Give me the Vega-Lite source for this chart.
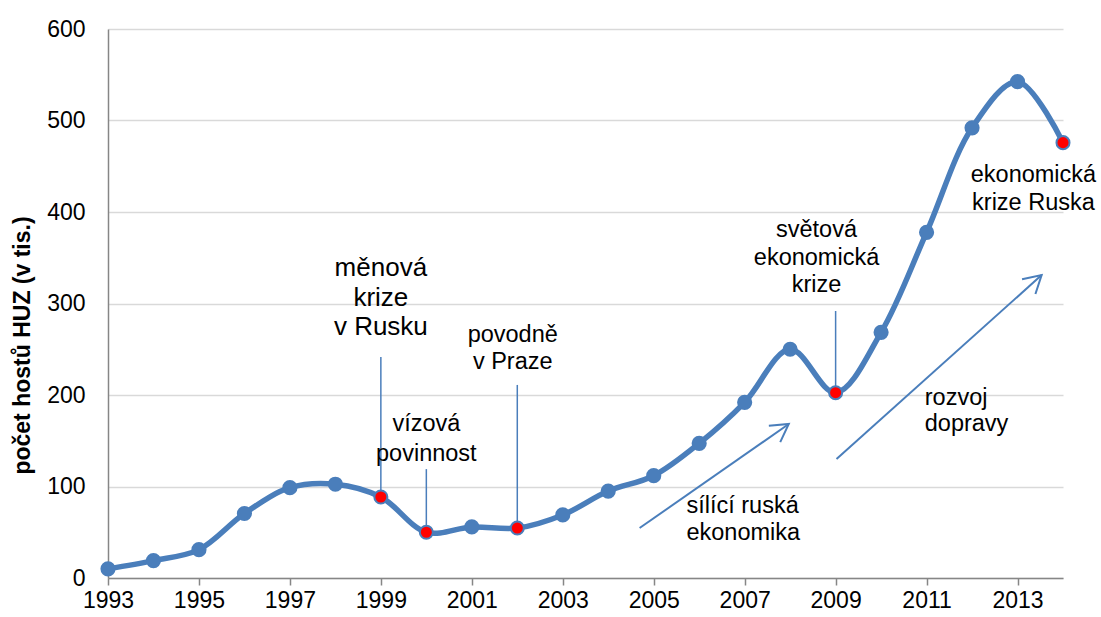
{
  "$schema": "https://vega.github.io/schema/vega-lite/v6.json",
  "width": 955,
  "height": 549,
  "autosize": {"type": "none"},
  "padding": {"left": 108, "top": 29, "right": 38, "bottom": 39},
  "background": "white",
  "config": {
    "font": "Liberation Sans",
    "view": {"stroke": null}
  },
  "datasets": {
    "series": [
      {"year": 1993, "value": 10, "event": false},
      {"year": 1994, "value": 19, "event": false},
      {"year": 1995, "value": 31, "event": false},
      {"year": 1996, "value": 70.5, "event": false},
      {"year": 1997, "value": 98.7, "event": false},
      {"year": 1998, "value": 102.5, "event": false},
      {"year": 1999, "value": 88.5, "event": true},
      {"year": 2000, "value": 50, "event": true},
      {"year": 2001, "value": 55.8, "event": false},
      {"year": 2002, "value": 54.6, "event": true},
      {"year": 2003, "value": 68.9, "event": false},
      {"year": 2004, "value": 95, "event": false},
      {"year": 2005, "value": 111.8, "event": false},
      {"year": 2006, "value": 147.2, "event": false},
      {"year": 2007, "value": 192, "event": false},
      {"year": 2008, "value": 250, "event": false},
      {"year": 2009, "value": 202.5, "event": true},
      {"year": 2010, "value": 268.5, "event": false},
      {"year": 2011, "value": 377.8, "event": false},
      {"year": 2012, "value": 492, "event": false},
      {"year": 2013, "value": 542.4, "event": false},
      {"year": 2014, "value": 475.8, "event": true}
    ],
    "connectors": [
      {"year": 1999, "top": 241.5, "bottom": 88.5},
      {"year": 2000, "top": 119, "bottom": 50},
      {"year": 2002, "top": 211, "bottom": 54.6},
      {"year": 2009, "top": 291.8, "bottom": 202.5}
    ],
    "arrows": [
      {"x1": 2004.69, "y1": 54.6, "x2": 2007.97, "y2": 168.3, "angle": 55.3},
      {"x1": 2009.02, "y1": 130, "x2": 2013.53, "y2": 331.1, "angle": 48.1}
    ],
    "notes": [
      {"x": 1999, "y": 338.8, "line": "měnová", "size": 26, "align": "center"},
      {"x": 1999, "y": 306.0, "line": "krize", "size": 26, "align": "center"},
      {"x": 1999, "y": 274.3, "line": "v Rusku", "size": 26, "align": "center"},
      {"x": 2000, "y": 168.3, "line": "vízová", "size": 23.5, "align": "center"},
      {"x": 2000, "y": 135.5, "line": "povinnost", "size": 23.5, "align": "center"},
      {"x": 2001.9, "y": 265.6, "line": "povodně", "size": 23.5, "align": "center"},
      {"x": 2001.9, "y": 236.4, "line": "v Praze", "size": 23.5, "align": "center"},
      {"x": 2008.58, "y": 380.3, "line": "světová", "size": 23.5, "align": "center"},
      {"x": 2008.58, "y": 349.7, "line": "ekonomická", "size": 23.5, "align": "center"},
      {"x": 2008.58, "y": 320.2, "line": "krize", "size": 23.5, "align": "center"},
      {"x": 2013.35, "y": 440.4, "line": "ekonomická", "size": 23.5, "align": "center"},
      {"x": 2013.35, "y": 410.2, "line": "krize Ruska", "size": 23.5, "align": "center"},
      {"x": 2005.72, "y": 78.7, "line": "sílící ruská", "size": 23.5, "align": "left"},
      {"x": 2005.72, "y": 49.2, "line": "ekonomika", "size": 23.5, "align": "left"},
      {"x": 2010.96, "y": 196.7, "line": "rozvoj", "size": 23.5, "align": "left"},
      {"x": 2010.96, "y": 168.3, "line": "dopravy", "size": 23.5, "align": "left"}
    ]
  },
  "layer": [
    {
      "data": {"name": "series"},
      "mark": {"type": "line", "interpolate": "catmull-rom", "color": "#4a7ebb", "strokeWidth": 5.5, "clip": false},
      "encoding": {
        "x": {
          "field": "year", "type": "quantitative",
          "scale": {"domain": [1993, 2014], "nice": false, "zero": false},
          "axis": {
            "title": null, "values": [1993, 1995, 1997, 1999, 2001, 2003, 2005, 2007, 2009, 2011, 2013],
            "format": "d", "grid": false, "domainColor": "#868686", "domainWidth": 1.5,
            "tickColor": "#868686", "tickSize": 7, "tickWidth": 1.5,
            "labelFontSize": 23, "labelColor": "#000000", "labelPadding": 4, "labelFlush": false, "labelOverlap": false
          }
        },
        "y": {
          "field": "value", "type": "quantitative",
          "scale": {"domain": [0, 600], "nice": false},
          "axis": {
            "title": "počet hostů HUZ (v tis.)", "titleFontSize": 23, "titleFontWeight": "bold", "titleColor": "#000000",
            "titleX": -86, "titleY": 316, "titleAngle": -90, "titleAlign": "center", "titleBaseline": "middle",
            "values": [0, 100, 200, 300, 400, 500, 600],
            "grid": true, "gridColor": "#d9d9d9", "gridWidth": 1.5,
            "domainColor": "#868686", "domainWidth": 1.5, "ticks": false,
            "labelFontSize": 23, "labelColor": "#000000", "labelPadding": 23
          }
        }
      }
    },
    {
      "data": {"name": "series"},
      "transform": [{"filter": "!datum.event"}],
      "mark": {"type": "point", "filled": true, "shape": "circle", "size": 230, "color": "#4a7ebb", "opacity": 1, "clip": false},
      "encoding": {
        "x": {"field": "year", "type": "quantitative"},
        "y": {"field": "value", "type": "quantitative"}
      }
    },
    {
      "data": {"name": "connectors"},
      "mark": {"type": "rule", "color": "#4a7ebb", "strokeWidth": 1.5},
      "encoding": {
        "x": {"field": "year", "type": "quantitative"},
        "y": {"field": "top", "type": "quantitative"},
        "y2": {"field": "bottom"}
      }
    },
    {
      "data": {"name": "series"},
      "transform": [{"filter": "datum.event"}],
      "mark": {"type": "point", "filled": true, "shape": "circle", "size": 170, "color": "#ff0000", "stroke": "#4a7ebb", "strokeWidth": 2, "opacity": 1, "clip": false},
      "encoding": {
        "x": {"field": "year", "type": "quantitative"},
        "y": {"field": "value", "type": "quantitative"}
      }
    },
    {
      "data": {"name": "arrows"},
      "mark": {"type": "rule", "color": "#4a7ebb", "strokeWidth": 2},
      "encoding": {
        "x": {"field": "x1", "type": "quantitative"},
        "y": {"field": "y1", "type": "quantitative"},
        "x2": {"field": "x2"},
        "y2": {"field": "y2"}
      }
    },
    {
      "data": {"name": "arrows"},
      "mark": {"type": "point", "shape": "M-0.5,0.866L0,0L0.5,0.866", "filled": false, "size": 1600, "stroke": "#4a7ebb", "strokeWidth": 2, "opacity": 1},
      "encoding": {
        "x": {"field": "x2", "type": "quantitative"},
        "y": {"field": "y2", "type": "quantitative"},
        "angle": {"field": "angle", "type": "quantitative", "scale": null}
      }
    },
    {
      "data": {"name": "notes"},
      "transform": [{"filter": "datum.align === 'center'"}],
      "mark": {"type": "text", "align": "center", "baseline": "middle", "color": "#000000", "font": "Liberation Sans"},
      "encoding": {
        "x": {"field": "x", "type": "quantitative"},
        "y": {"field": "y", "type": "quantitative"},
        "text": {"field": "line"},
        "size": {"field": "size", "type": "quantitative", "scale": null}
      }
    },
    {
      "data": {"name": "notes"},
      "transform": [{"filter": "datum.align === 'left'"}],
      "mark": {"type": "text", "align": "left", "baseline": "middle", "color": "#000000", "font": "Liberation Sans"},
      "encoding": {
        "x": {"field": "x", "type": "quantitative"},
        "y": {"field": "y", "type": "quantitative"},
        "text": {"field": "line"},
        "size": {"field": "size", "type": "quantitative", "scale": null}
      }
    }
  ]
}
